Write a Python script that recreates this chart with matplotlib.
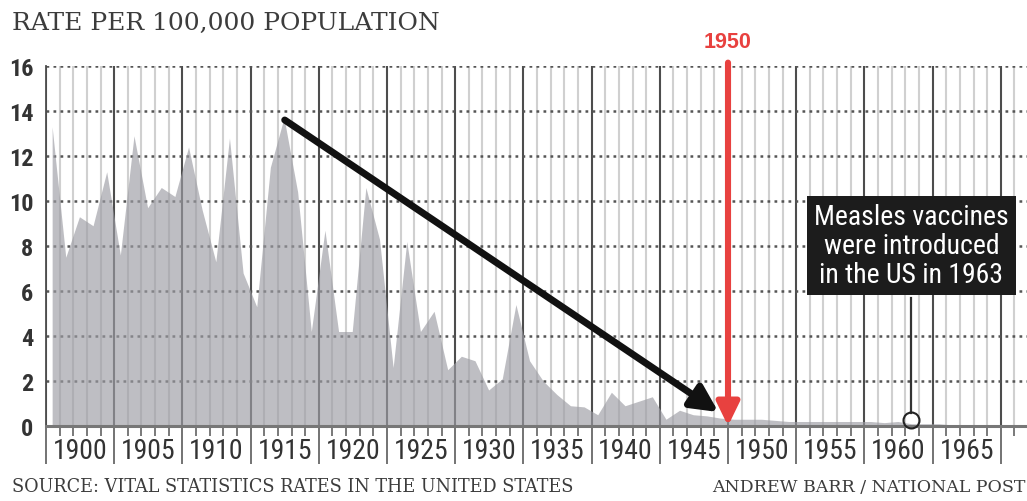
import numpy as np
import matplotlib
matplotlib.use('Agg')
from matplotlib import pyplot as plt
from matplotlib.patches import FancyArrowPatch
from matplotlib import font_manager

# data (rate per 100,000, one value per year)
years = list(range(1900, 1971))
rate = [13.3, 7.5, 9.3, 8.9, 11.3, 7.6, 12.9, 9.7, 10.6, 10.2,
        12.4, 9.6, 7.3, 12.8, 6.8, 5.3, 11.5, 13.7, 10.4, 4.2,
        8.7, 4.2, 4.2, 10.6, 8.3, 2.6, 8.2, 4.2, 5.1, 2.5,
        3.1, 2.9, 1.6, 2.1, 5.4, 2.9, 2.0, 1.4, 0.9, 0.85,
        0.5, 1.5, 0.9, 1.1, 1.3, 0.3, 0.7, 0.5, 0.45, 0.35,
        0.3, 0.3, 0.3, 0.25, 0.2, 0.2, 0.2, 0.2, 0.2, 0.2,
        0.2, 0.15, 0.2, 0.1, 0.1, 0.1, 0.05, 0.05, 0.05, 0.03, 0.03]
year_labels = ['1900', '1905', '1910', '1915', '1920', '1925', '1930',
               '1935', '1940', '1945', '1950', '1955', '1960', '1965']
y_ticks = [0, 2, 4, 6, 8, 10, 12, 14, 16]

marker_year = 1950
vaccine_year = 1963
note = 'Measles vaccines\nwere introduced\nin the US in 1963'

# pick a narrow sans if one is installed
names = set(f.name for f in font_manager.fontManager.ttflist)
narrow = [n for n in ['Roboto Condensed', 'DejaVu Sans Condensed', 'Liberation Sans Narrow']
          if n in names]
narrow = narrow + ['Roboto', 'DejaVu Sans']
serif = ['DejaVu Serif']

fig = plt.figure(figsize=(10.27, 5.02), dpi=100)
ax = fig.add_axes([46/1027, 75/502, 981/1027, 360/502])
ax.set_xlim(1900, 1971.92)
ax.set_ylim(0, 16)

# grid
ax.set_axisbelow(True)
ax.set_xticks(range(1900, 1972, 5))
ax.set_xticks(range(1900, 1972), minor=True)
ax.set_yticks(y_ticks)
ax.grid(which='minor', axis='x', color='#d0d0d0', lw=1.5)
ax.grid(which='major', axis='x', color='#4d4d4d', lw=1.5)
ax.grid(which='major', axis='y', color='#555555', lw=1.8, ls=(0, (1.1, 1.7)))

# area
xs = np.array(years) + 0.45
ax.fill_between(xs, rate, color='#9d9da4', alpha=0.66, lw=0, zorder=1)

for s in ['top', 'right']:
    ax.spines[s].set_visible(False)
ax.spines['left'].set_color('#4d4d4d')
ax.spines['left'].set_linewidth(1.3)
ax.spines['bottom'].set_color('#777777')
ax.spines['bottom'].set_linewidth(2.2)
ax.spines['bottom'].set_zorder(3)

ax.tick_params(axis='x', which='major', length=27.5, width=1.1, color='#4d4d4d',
               labelbottom=False)
ax.tick_params(axis='x', which='minor', length=7, width=1.1, color='#555555')
ax.tick_params(axis='y', length=0, pad=9, labelsize=17.5, labelcolor='#333333')
for lab in ax.get_yticklabels():
    lab.set_family(narrow)
    lab.set_weight('bold')

for lab in year_labels:
    ax.text(int(lab) + 2.5, -25/360, lab, transform=ax.get_xaxis_transform(),
            ha='center', va='center', fontsize=20, family=narrow,
            color='#333333', clip_on=False)

# red 1950 marker
red = FancyArrowPatch((marker_year, 16.15), (marker_year, 0),
                      arrowstyle='-|>,head_length=14,head_width=6.8',
                      mutation_scale=1, color='#e8413f', lw=4.4,
                      shrinkA=0, shrinkB=0, capstyle='round', zorder=6,
                      clip_on=False)
ax.add_patch(red)
ax.text(marker_year, 16 + 24/22.5, str(marker_year), ha='center', va='center',
        fontsize=15.5, fontweight='bold', color='#e8413f', family='Liberation Sans')

# black trend arrow
arr = FancyArrowPatch((1917.5, 13.6), (1949.3, 0.62),
                      arrowstyle='-|>,head_length=16,head_width=8',
                      mutation_scale=1, color='#111111', lw=5,
                      shrinkA=0, shrinkB=0, zorder=5)
ax.add_patch(arr)

# vaccine note
vx = vaccine_year + 0.45
ax.plot([vx, vx], [0.6, 5.7], color='#333333', lw=1.6, zorder=4)
ax.plot([vx], [0.25], marker='o', ms=11.5, mfc='none', mec='#222222', mew=1.5,
        zorder=4, clip_on=False)
ax.text(vx, 8.02, note, ha='center', va='center', fontsize=20, family=narrow,
        color='white', linespacing=1.08, zorder=6,
        bbox=dict(boxstyle='square,pad=0.25', fc='#1c1c1c', ec='none'))

# header / footer
fig.text(12/1027, 1 - 30/502, 'RATE PER 100,000 POPULATION', ha='left',
         va='baseline', fontsize=18, family=serif, color='#3c3c3c')
fig.text(12/1027, 1 - 492/502, 'SOURCE: VITAL STATISTICS RATES IN THE UNITED STATES',
         ha='left', va='baseline', fontsize=12.7, family=serif, color='#3c3c3c')
fig.text(712/1027, 1 - 492/502, 'ANDREW BARR / NATIONAL POST',
         ha='left', va='baseline', fontsize=12.5, family=serif, color='#3c3c3c')

plt.savefig('out.png', dpi=100)
